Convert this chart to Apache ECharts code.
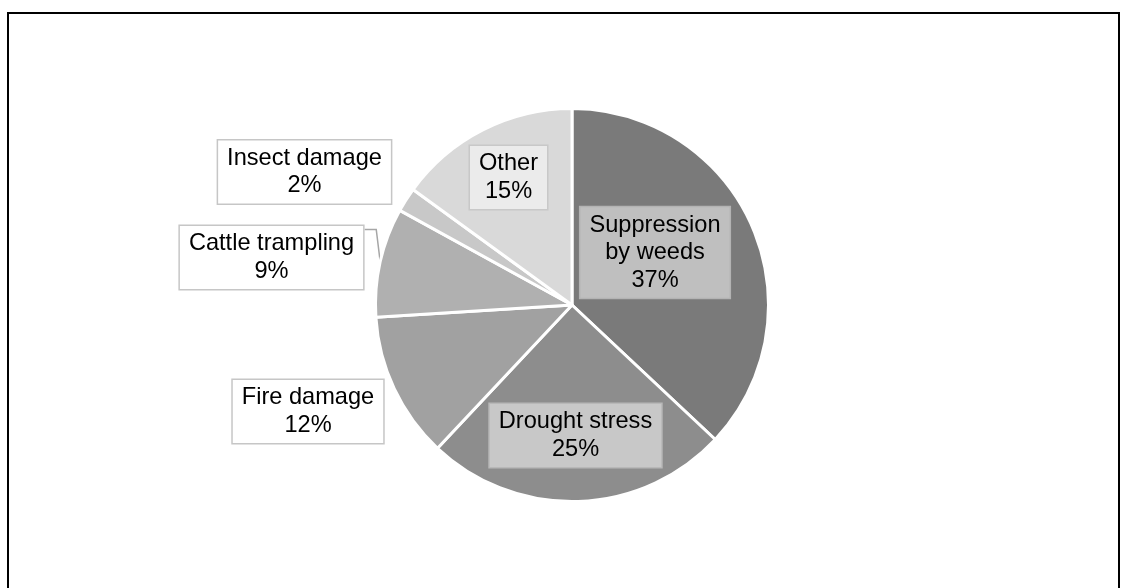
<!DOCTYPE html>
<html>
<head>
<meta charset="utf-8">
<script src="https://cdn.jsdelivr.net/npm/echarts@6/dist/echarts.min.js"></script>
<style>
  html, body { margin: 0; padding: 0; background: #ffffff; }
  #chart { width: 1121px; height: 588px; }
</style>
</head>
<body>
<div id="chart"></div>
<script>
// Causes of loss, share in percent
const categories = ['Suppression\nby weeds', 'Drought stress', 'Fire damage', 'Cattle trampling', 'Insect damage', 'Other'];
const shares = [37, 25, 12, 9, 2, 15];

// Slice and label-box styling
const sliceColors = ['#7a7a7a', '#8d8d8d', '#a1a1a1', '#b0b0b0', '#c8c8c8', '#d9d9d9'];
const boxFill = ['#bfbfbf', '#c8c8c8', '#ffffff', '#ffffff', '#ffffff', '#ebebeb'];
const boxStroke = ['#b3b3b3', '#b8b8b8', '#c6c6c6', '#c6c6c6', '#c6c6c6', '#c8c8c8'];
const outsideLabel = [false, false, true, true, true, false];
const hasLeader = [false, false, false, true, false, false];
// Label box centres, in px relative to the pie centre
const labelOffsets = [[83, -52.5], [3.5, 130.5], [-264, 106.5], [-300.5, -47.5], [-267.5, -133], [-63.5, -127.5]];

const CX = 572, CY = 305, R = 196.5;

const chart = echarts.init(document.getElementById('chart'), null, { renderer: 'canvas' });

chart.setOption({
  animation: false,
  backgroundColor: '#ffffff',
  graphic: [{
    type: 'rect',
    silent: true,
    shape: { x: 8, y: 13, width: 1111, height: 640 },
    style: { fill: 'none', stroke: '#000000', lineWidth: 2 }
  }],
  series: [{
    type: 'pie',
    center: [CX, CY],
    radius: [0, R],
    startAngle: 90,
    clockwise: true,
    avoidLabelOverlap: false,
    silent: true,
    emphasis: { disabled: true },
    itemStyle: { borderColor: '#ffffff', borderWidth: 3 },
    label: {
      formatter: p => p.name + '\n' + p.value + '%',
      fontFamily: 'Liberation Sans, Arial, sans-serif',
      fontSize: 23.6,
      lineHeight: 27.5,
      color: '#000000',
      align: 'center',
      padding: [4, 9]
    },
    labelLine: { show: false, lineStyle: { color: '#a6a6a6', width: 1.5 } },
    labelLayout: function (params) {
      const i = params.dataIndex;
      const x = CX + labelOffsets[i][0];
      const y = CY + labelOffsets[i][1];
      const out = { x: x, y: y, align: 'center', verticalAlign: 'middle' };
      if (hasLeader[i]) {
        const w = params.labelRect.width, h = params.labelRect.height;
        let p0 = params.labelLinePoints && params.labelLinePoints[0];
        if (!p0) {
          let start = 0;
          for (let k = 0; k < i; k++) start += shares[k];
          const a = (start + shares[i] / 2) / 100 * Math.PI * 2;
          p0 = [CX + R * Math.sin(a), CY - R * Math.cos(a)];
        }
        const top = y - h / 2 + 5, right = x + w / 2;
        out.labelLinePoints = [[p0[0], p0[1]], [p0[0] - 4, top], [right, top]];
      }
      return out;
    },
    data: categories.map((name, i) => ({
      name: name,
      value: shares[i],
      itemStyle: { color: sliceColors[i] },
      label: {
        position: outsideLabel[i] ? 'outside' : 'inside',
        backgroundColor: boxFill[i],
        borderColor: boxStroke[i],
        borderWidth: 1.5
      },
      labelLine: { show: hasLeader[i] }
    }))
  }]
});
</script>
</body>
</html>
